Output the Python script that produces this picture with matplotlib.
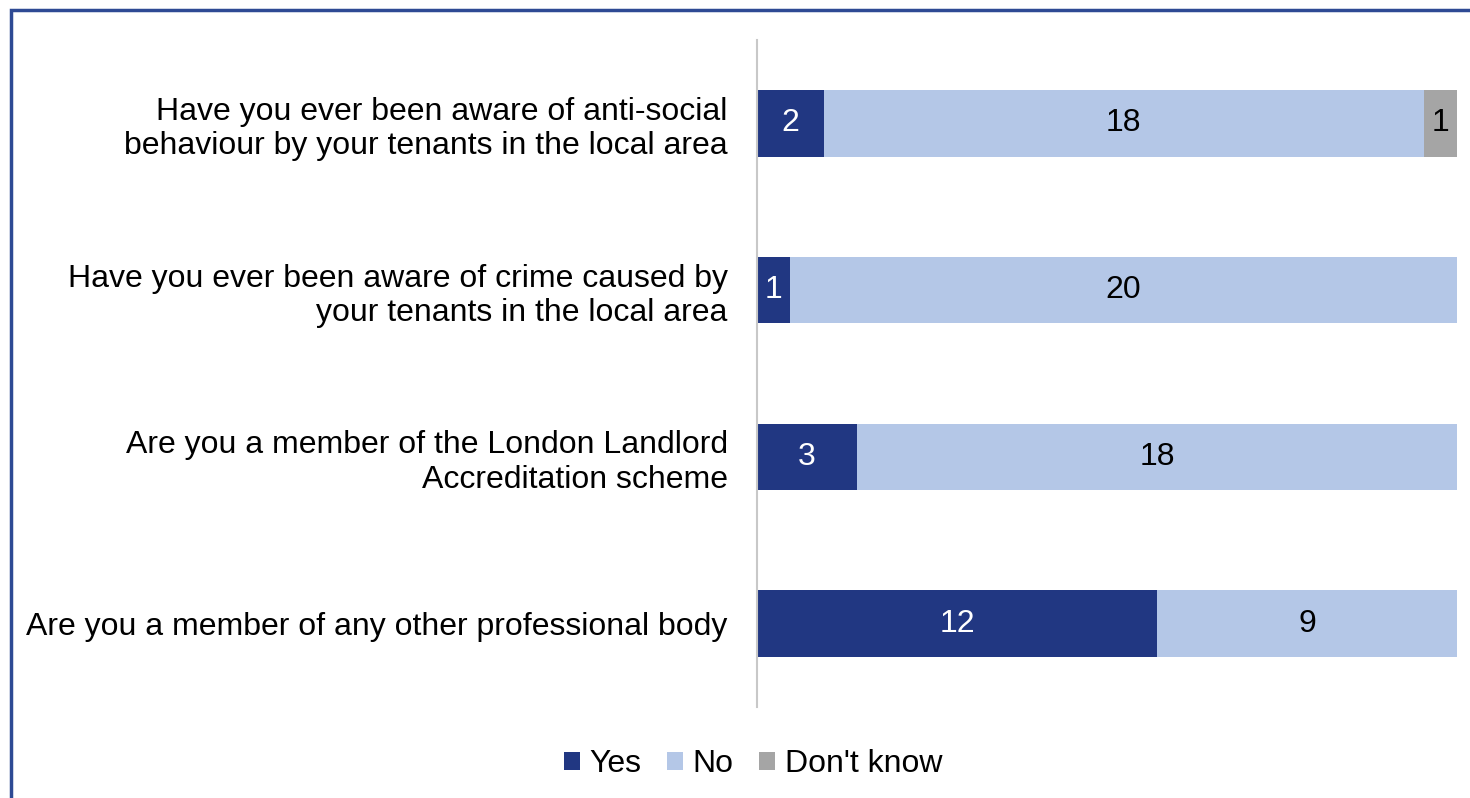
import matplotlib.pyplot as plt
from matplotlib.patches import Rectangle

plt.rcParams['font.family'] = ['Liberation Sans', 'DejaVu Sans']

questions = [
    "Have you ever been aware of anti-social\nbehaviour by your tenants in the local area",
    "Have you ever been aware of crime caused by\nyour tenants in the local area",
    "Are you a member of the London Landlord\nAccreditation scheme",
    "Are you a member of any other professional body",
]
yes = [2, 1, 3, 12]
no = [18, 20, 18, 9]
dont_know = [1, 0, 0, 0]

series = [("Yes", yes, "#213782", "white"),
          ("No", no, "#b4c7e7", "black"),
          ("Don't know", dont_know, "#a5a5a5", "black")]

FS = 23

fig = plt.figure(figsize=(14.7, 7.98), dpi=100)
ax = fig.add_axes([757 / 1470, 1 - 707 / 798, 700 / 1470, 667 / 798])

# outer frame, only top and left edges fall inside the image
fig.patches.append(Rectangle((11 / 1470, -0.1), 1.2, (798 - 10) / 798 + 0.1,
                             transform=fig.transFigure, fill=False,
                             edgecolor="#2e4a94", linewidth=2.5))

ypos = list(range(len(questions)))
left = [0] * len(questions)
for name, vals, color, tcolor in series:
    bars = ax.barh(ypos, vals, left=left, height=0.4, color=color, label=name)
    for b, v in zip(bars, vals):
        if v > 0:
            ax.text(b.get_x() + b.get_width() / 2, b.get_y() + b.get_height() / 2,
                    str(v), ha="center", va="center", color=tcolor, fontsize=FS)
    left = [l + v for l, v in zip(left, vals)]

ax.set_xlim(0, 21)
ax.set_ylim(len(questions) - 0.5, -0.5)
ax.set_yticks(ypos)
ax.set_yticklabels(questions, fontsize=FS, linespacing=1.2)
ax.tick_params(axis="y", length=0, pad=21)
ax.set_xticks([])
for s in ["top", "right", "bottom"]:
    ax.spines[s].set_visible(False)
ax.spines["left"].set_color("#c8c8c8")
ax.spines["left"].set_linewidth(1.5)

fig.legend(loc="center", bbox_to_anchor=(753 / 1470, 1 - 764 / 798), ncol=3,
           frameon=False, fontsize=FS, handlelength=0.5, handleheight=0.5,
           handletextpad=0.3, columnspacing=0.8)

fig.savefig("out.png", dpi=100)
